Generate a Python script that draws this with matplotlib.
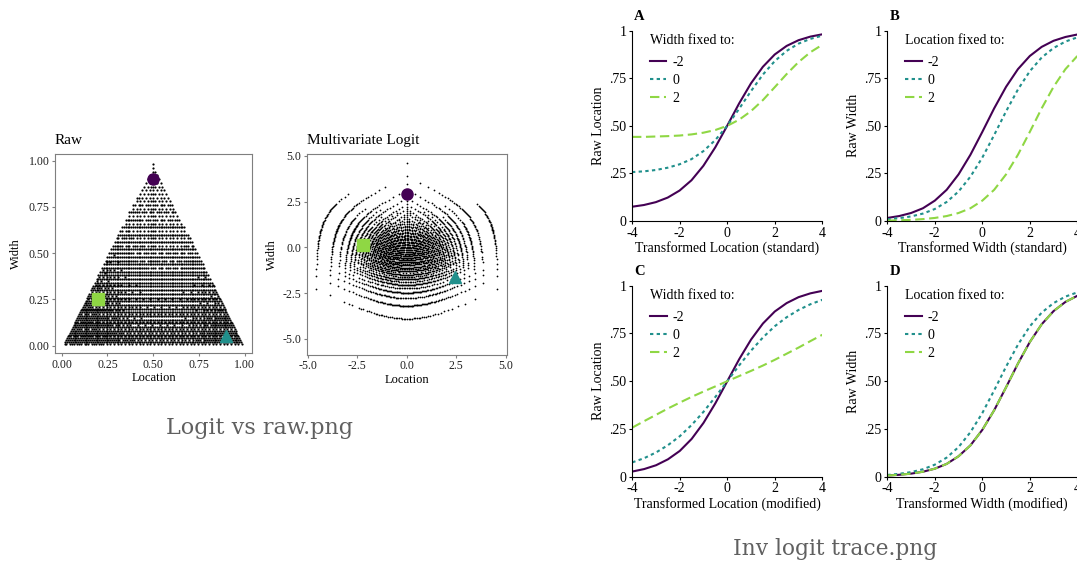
import numpy as np
import matplotlib.pyplot as plt

plt.rcParams['font.family'] = ['Liberation Serif', 'DejaVu Serif']
plt.rcParams['axes.unicode_minus'] = False

# ---- data ----
# bounds of the responses, recorded in whole percent (lower < upper)
lower_pct = np.arange(1, 99)
upper_pct = np.arange(2, 100)

# share of the percent grid that is filled in the raw cloud, read at cell centres
# rows: width .05 ... .95, cols: location .05 ... .95
raw_density = np.array([
    [0.95, 0.95, 0.90, 0.80, 0.75, 0.75, 0.75, 0.80, 0.90, 0.90],
    [0.95, 0.95, 0.85, 0.70, 0.65, 0.65, 0.65, 0.75, 0.85, 0.85],
    [0.90, 0.90, 0.80, 0.60, 0.55, 0.55, 0.55, 0.65, 0.70, 0.70],
    [0.80, 0.80, 0.70, 0.55, 0.50, 0.50, 0.50, 0.55, 0.60, 0.60],
    [0.70, 0.70, 0.60, 0.50, 0.45, 0.45, 0.45, 0.50, 0.55, 0.55],
    [0.60, 0.60, 0.50, 0.45, 0.40, 0.40, 0.40, 0.45, 0.50, 0.50],
    [0.50, 0.50, 0.45, 0.40, 0.35, 0.35, 0.35, 0.40, 0.45, 0.45],
    [0.40, 0.40, 0.40, 0.35, 0.30, 0.30, 0.30, 0.35, 0.40, 0.40],
    [0.35, 0.35, 0.35, 0.30, 0.25, 0.25, 0.25, 0.30, 0.35, 0.35],
    [0.25, 0.25, 0.25, 0.20, 0.20, 0.20, 0.20, 0.20, 0.25, 0.25],
])

# highlighted example responses
raw_marker_loc = [0.5, 0.2, 0.9]
raw_marker_wid = [0.9, 0.25, 0.05]
logit_marker_loc = [0.0, -2.2, 2.46]
logit_marker_wid = [2.89, 0.1, -1.63]
marker_shapes = ['o', 's', '^']

# inverse logit traces
x_vals = [-4, -3.5, -3, -2.5, -2, -1.5, -1, -0.5, 0, 0.5, 1, 1.5, 2, 2.5, 3, 3.5, 4]
fixed_levels = ['-2', '0', '2']

a_m2 = [0.075, 0.084, 0.099, 0.123, 0.160, 0.214, 0.290, 0.387, 0.500, 0.617, 0.723, 0.810, 0.875, 0.920, 0.950, 0.969, 0.981]
a_0 = [0.257, 0.261, 0.268, 0.280, 0.298, 0.325, 0.367, 0.425, 0.500, 0.589, 0.682, 0.769, 0.840, 0.894, 0.932, 0.957, 0.974]
a_2 = [0.442, 0.442, 0.444, 0.446, 0.449, 0.455, 0.464, 0.478, 0.500, 0.532, 0.577, 0.635, 0.703, 0.772, 0.835, 0.887, 0.926]

b_m2 = [0.016, 0.026, 0.042, 0.067, 0.107, 0.164, 0.245, 0.348, 0.468, 0.592, 0.705, 0.798, 0.867, 0.915, 0.947, 0.967, 0.980]
b_0 = [0.009, 0.015, 0.024, 0.039, 0.063, 0.100, 0.155, 0.233, 0.333, 0.452, 0.576, 0.691, 0.787, 0.859, 0.909, 0.943, 0.965]
b_2 = [0.002, 0.004, 0.006, 0.010, 0.016, 0.026, 0.042, 0.067, 0.107, 0.164, 0.245, 0.348, 0.468, 0.592, 0.705, 0.798, 0.867]

c_m2 = [0.027, 0.040, 0.060, 0.091, 0.135, 0.198, 0.282, 0.385, 0.500, 0.615, 0.718, 0.802, 0.865, 0.909, 0.940, 0.960, 0.973]
c_0 = [0.075, 0.097, 0.127, 0.165, 0.212, 0.271, 0.340, 0.418, 0.500, 0.583, 0.660, 0.729, 0.788, 0.835, 0.873, 0.903, 0.926]
c_2 = [0.257, 0.291, 0.324, 0.357, 0.388, 0.418, 0.446, 0.473, 0.500, 0.527, 0.554, 0.582, 0.612, 0.644, 0.676, 0.710, 0.743]

d_m2 = [0.006, 0.010, 0.016, 0.026, 0.042, 0.067, 0.107, 0.164, 0.245, 0.348, 0.468, 0.592, 0.705, 0.798, 0.867, 0.915, 0.947]
d_0 = [0.009, 0.015, 0.024, 0.039, 0.063, 0.100, 0.155, 0.233, 0.333, 0.452, 0.576, 0.691, 0.787, 0.859, 0.909, 0.943, 0.965]
d_2 = [0.006, 0.010, 0.016, 0.026, 0.042, 0.067, 0.107, 0.164, 0.245, 0.348, 0.468, 0.592, 0.705, 0.798, 0.867, 0.915, 0.947]

y_ticks = [0, 0.25, 0.5, 0.75, 1]
y_tick_labels = ['0', '.25', '.50', '.75', '1']
x_ticks = [-4, -2, 0, 2, 4]

# ---- styles ----
PURPLE = '#440154'
TEAL = '#21908C'
GREEN = '#8FD744'
line_colors = [PURPLE, TEAL, GREEN]
line_styles = ['-', (0, (1.6, 1.6)), (0, (4.5, 2.2))]
marker_colors = [PURPLE, GREEN, TEAL]
marker_sizes = [8, 8, 9]

W, H = 1077, 566
fig = plt.figure(figsize=(W / 100, H / 100), dpi=100)


def px_axes(left, top, right, bottom):
    return fig.add_axes([left / W, 1 - bottom / H, (right - left) / W, (bottom - top) / H])


# build the raw cloud from the bounds
lo_i, hi_i = np.meshgrid(lower_pct, upper_pct)
keep = hi_i > lo_i
lo_i = lo_i[keep]
hi_i = hi_i[keep]
lo = lo_i / 100.0
hi = hi_i / 100.0
raw_loc = (lo + hi) / 2
raw_wid = hi - lo

# smooth the cell densities onto every point (bilinear)
fx = np.clip(raw_loc * 10 - 0.5, 0, 9)
fy = np.clip(raw_wid * 10 - 0.5, 0, 9)
j0 = np.minimum(fx.astype(int), 8)
i0 = np.minimum(fy.astype(int), 8)
tx = fx - j0
ty = fy - i0
dens = ((1 - ty) * ((1 - tx) * raw_density[i0, j0] + tx * raw_density[i0, j0 + 1])
        + ty * ((1 - tx) * raw_density[i0 + 1, j0] + tx * raw_density[i0 + 1, j0 + 1]))

# ordered (bayer) thinning on the bounds so the cloud keeps a grainy look
bayer = (np.array([[0, 8, 2, 10], [12, 4, 14, 6], [3, 11, 1, 9], [15, 7, 13, 5]]) + 0.5) / 16
shown = (dens > bayer[lo_i % 4, hi_i % 4]) | (lo_i + hi_i == 100)
raw_loc = raw_loc[shown]
raw_wid = raw_wid[shown]
lo = lo[shown]
hi = hi[shown]

# multivariate logit of (lower gap, width, upper gap)
gap_lo = lo
gap_hi = 1 - hi
logit_loc = np.log(gap_lo / gap_hi)
logit_wid = np.log(raw_wid / np.sqrt(gap_lo * gap_hi))

GRAY = '#7f7f7f'


def style_left(ax):
    for s in ax.spines.values():
        s.set_color(GRAY)
        s.set_linewidth(0.8)
    ax.tick_params(direction='out', length=2.5, width=0.8, color=GRAY,
                   labelsize=8.6, labelcolor='#222222', pad=1.5)


ax1 = px_axes(55, 154, 252, 353)
ax1.scatter(raw_loc, raw_wid, s=2.5, c='black', marker='o', linewidths=0)
for xm, ym, mk, mc, ms in zip(raw_marker_loc, raw_marker_wid, marker_shapes, marker_colors, marker_sizes):
    ax1.plot(xm, ym, marker=mk, color=mc, markersize=ms, linestyle='none')
ax1.set_xlim(-0.037, 1.04)
ax1.set_ylim(-0.04, 1.036)
ax1.set_xticks([0, 0.25, 0.5, 0.75, 1])
ax1.set_xticklabels(['0.00', '0.25', '0.50', '0.75', '1.00'])
ax1.set_yticks([0, 0.25, 0.5, 0.75, 1])
ax1.set_yticklabels(['0.00', '0.25', '0.50', '0.75', '1.00'])
style_left(ax1)
ax1.set_xlabel('Location', fontsize=9, va='center')
ax1.xaxis.set_label_coords(0.5, -0.126)
ax1.set_ylabel('Width', fontsize=9, va='center')
ax1.yaxis.set_label_coords(-0.198, 0.5)
ax1.text(0, 1 + 13.3 / 199, 'Raw', transform=ax1.transAxes, fontsize=11, va='center', ha='left')

ax2 = px_axes(306.7, 154.3, 506.7, 354.5)
ax2.scatter(logit_loc, logit_wid, s=1.6, c='black', marker='o', linewidths=0)
for xm, ym, mk, mc, ms in zip(logit_marker_loc, logit_marker_wid, marker_shapes, marker_colors, marker_sizes):
    ax2.plot(xm, ym, marker=mk, color=mc, markersize=ms, linestyle='none')
ax2.set_xlim(-5.05, 5.05)
ax2.set_ylim(-5.86, 5.08)
ax2.set_xticks([-5, -2.5, 0, 2.5, 5])
ax2.set_xticklabels(['-5.0', '-2.5', '0.0', '2.5', '5.0'])
ax2.set_yticks([-5, -2.5, 0, 2.5, 5])
ax2.set_yticklabels(['-5.0', '-2.5', '0.0', '2.5', '5.0'])
style_left(ax2)
ax2.set_xlabel('Location', fontsize=9, va='center')
ax2.xaxis.set_label_coords(0.5, -0.127)
ax2.set_ylabel('Width', fontsize=9, va='center')
ax2.yaxis.set_label_coords(-0.1735, 0.5)
ax2.text(0, 1 + 13.5 / 200, 'Multivariate Logit', transform=ax2.transAxes, fontsize=11, va='center', ha='left')

panels = [
    ('A', (632, 30.7, 822.3, 221), [a_m2, a_0, a_2], 'Raw Location', 'Transformed Location (standard)', 'Width fixed to:'),
    ('B', (887.3, 30.7, 1077.3, 221), [b_m2, b_0, b_2], 'Raw Width', 'Transformed Width (standard)', 'Location fixed to:'),
    ('C', (632.3, 285.7, 822.3, 476.7), [c_m2, c_0, c_2], 'Raw Location', 'Transformed Location (modified)', 'Width fixed to:'),
    ('D', (887.3, 285.7, 1077.3, 476.7), [d_m2, d_0, d_2], 'Raw Width', 'Transformed Width (modified)', 'Location fixed to:'),
]

for letter, box, curves, ylab, xlab, leg_title in panels:
    ax = px_axes(*box)
    for ys, col_, ls, lab in zip(curves, line_colors, line_styles, fixed_levels):
        ax.plot(x_vals, ys, color=col_, linestyle=ls, linewidth=1.5, label=lab)
    ax.set_xlim(-4, 4)
    ax.set_ylim(0, 1)
    ax.set_xticks(x_ticks)
    ax.set_xticklabels([str(t) for t in x_ticks])
    ax.set_yticks(y_ticks)
    ax.set_yticklabels(y_tick_labels)
    ax.spines['top'].set_visible(False)
    ax.spines['right'].set_visible(False)
    for s in ('left', 'bottom'):
        ax.spines[s].set_linewidth(0.8)
        ax.spines[s].set_color('black')
    ax.tick_params(direction='out', length=2.5, width=0.8, labelsize=10, pad=1.5)
    hgt = box[3] - box[1]
    ax.set_ylabel(ylab, fontsize=10, va='center')
    ax.yaxis.set_label_coords((598 - 632) / hgt, 0.5)
    ax.set_xlabel(xlab, fontsize=10, va='center')
    ax.xaxis.set_label_coords(0.5, -27 / hgt)
    ax.text(2 / hgt, 1 + 14 / hgt, letter, transform=ax.transAxes, fontsize=10.5,
            fontweight='bold', va='center', ha='left')
    # legend title drawn as text, entries below it
    ax.text(18 / hgt, 1 - 9.5 / hgt, leg_title, transform=ax.transAxes, fontsize=10,
            va='center', ha='left')
    ax.legend(loc='upper left', bbox_to_anchor=(0.085, 1 - 24 / hgt), frameon=False,
              fontsize=10, handlelength=1.2, handletextpad=0.45, labelspacing=0.36,
              borderpad=0.1, borderaxespad=0)

fig.text(260 / W, 1 - 428 / H, 'Logit vs raw.png', fontsize=16, color='#606060',
         family='DejaVu Serif', ha='center', va='center')
fig.text(835 / W, 1 - 549 / H, 'Inv logit trace.png', fontsize=15.7, color='#606060',
         family='DejaVu Serif', ha='center', va='center')

fig.savefig('out.png', dpi=100)
